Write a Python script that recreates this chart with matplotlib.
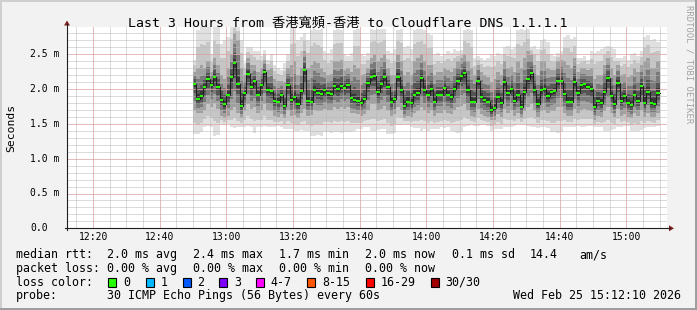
import numpy as np
import matplotlib
matplotlib.use("Agg")
import matplotlib.pyplot as plt
from matplotlib.patches import Rectangle, Polygon
import matplotlib.transforms as mtrans

# ---------------- data ----------------
title = "Last 3 Hours from 香港寬頻-香港 to Cloudflare DNS 1.1.1.1"
view_start = "12:12:10"
view_end = "15:12:10"
first_sample = "12:50"   # start of first 60 s step
step_minutes = 1

median = [2.08,1.86,1.90,2.03,2.15,2.06,2.17,2.03,1.85,1.78,
          1.92,2.17,2.37,2.08,1.76,1.94,2.22,2.03,2.11,1.92,
          2.06,2.25,1.99,1.97,1.83,1.82,1.92,1.76,2.06,1.85,
          1.88,1.79,1.97,2.28,1.83,1.82,1.99,1.95,1.93,1.98,
          1.94,1.93,2.04,2.00,2.05,2.02,2.06,1.87,1.85,1.83,
          1.80,1.86,2.09,2.18,2.19,1.96,2.07,2.18,2.03,1.82,
          1.86,2.18,1.99,1.76,1.82,1.80,1.91,1.94,2.16,1.99,
          1.91,2.00,1.82,1.92,1.92,2.02,1.92,1.88,2.00,2.12,
          2.19,2.23,1.98,1.82,1.82,2.12,1.89,1.85,1.82,1.70,
          1.73,1.89,1.80,2.10,1.94,2.00,1.83,1.91,1.75,1.96,
          2.14,2.23,1.99,1.79,1.98,2.00,1.90,1.96,1.97,2.12,
          2.12,1.93,1.82,1.81,2.10,1.94,2.06,2.07,2.03,2.00,
          1.74,1.83,1.80,1.96,2.16,1.90,1.78,2.09,1.83,1.90,
          1.80,1.77,1.92,1.83,2.04,1.80,1.96,1.80,1.79,1.94]

smoke_hi = [2.25,2.30,2.35,2.30,2.40,2.25,2.45,2.35,2.20,2.15,
            2.30,2.50,2.80,2.70,2.30,2.20,2.45,2.35,2.35,2.25,
            2.30,2.42,2.28,2.30,2.15,2.12,2.12,2.10,2.30,2.35,
            2.40,2.20,2.30,2.55,2.30,2.35,2.40,2.38,2.30,2.25,
            2.20,2.22,2.40,2.40,2.42,2.28,2.30,2.25,2.35,2.30,
            2.20,2.22,2.30,2.45,2.50,2.40,2.45,2.50,2.30,2.20,
            2.20,2.50,2.40,2.20,2.25,2.20,2.40,2.45,2.50,2.40,
            2.35,2.35,2.20,2.25,2.25,2.30,2.28,2.25,2.30,2.40,
            2.45,2.50,2.40,2.30,2.20,2.35,2.25,2.20,2.18,2.10,
            2.15,2.25,2.20,2.40,2.30,2.32,2.25,2.40,2.30,2.45,
            2.55,2.50,2.35,2.20,2.40,2.40,2.30,2.28,2.28,2.40,
            2.42,2.40,2.35,2.30,2.45,2.25,2.30,2.30,2.28,2.30,
            2.15,2.20,2.20,2.35,2.45,2.30,2.20,2.35,2.20,2.22,
            2.18,2.20,2.30,2.25,2.35,2.40,2.45,2.30,2.30,2.40]

smoke_lo = [1.70,1.65,1.66,1.70,1.78,1.75,1.80,1.72,1.62,1.58,
            1.62,1.70,1.75,1.65,1.58,1.68,1.78,1.72,1.75,1.66,
            1.70,1.78,1.70,1.68,1.62,1.60,1.64,1.58,1.70,1.62,
            1.63,1.58,1.66,1.72,1.62,1.63,1.70,1.68,1.68,1.72,
            1.70,1.70,1.74,1.72,1.75,1.72,1.74,1.66,1.65,1.64,
            1.62,1.64,1.70,1.78,1.78,1.70,1.72,1.76,1.70,1.62,
            1.64,1.75,1.70,1.58,1.62,1.60,1.66,1.68,1.74,1.70,
            1.66,1.70,1.62,1.66,1.66,1.70,1.66,1.64,1.70,1.74,
            1.76,1.78,1.70,1.62,1.60,1.72,1.64,1.62,1.60,1.55,
            1.56,1.64,1.60,1.72,1.66,1.70,1.62,1.66,1.58,1.68,
            1.74,1.78,1.70,1.60,1.68,1.70,1.65,1.68,1.68,1.74,
            1.74,1.66,1.62,1.61,1.72,1.66,1.70,1.71,1.70,1.68,
            1.56,1.62,1.60,1.68,1.75,1.65,1.60,1.72,1.62,1.64,
            1.60,1.58,1.65,1.62,1.70,1.60,1.66,1.60,1.60,1.66]

smoke_min = [1.36,1.35,1.38,1.46,1.47,1.45,1.33,1.34,1.50,1.48,
             1.50,1.45,1.44,1.45,1.46,1.45,1.47,1.46,1.37,1.46,
             1.45,1.47,1.45,1.46,1.45,1.47,1.45,1.42,1.42,1.43,
             1.40,1.40,1.41,1.40,1.40,1.33,1.33,1.34,1.33,1.38,
             1.38,1.37,1.38,1.38,1.37,1.38,1.38,1.38,1.40,1.42,
             1.42,1.45,1.45,1.40,1.40,1.41,1.42,1.42,1.36,1.36,
             1.37,1.48,1.48,1.50,1.48,1.46,1.44,1.44,1.40,1.42,
             1.40,1.42,1.42,1.43,1.45,1.44,1.45,1.40,1.38,1.37,
             1.38,1.46,1.47,1.48,1.47,1.47,1.48,1.48,1.47,1.40,
             1.42,1.43,1.42,1.45,1.46,1.45,1.47,1.50,1.48,1.48,
             1.47,1.45,1.46,1.44,1.45,1.45,1.44,1.38,1.38,1.37,
             1.38,1.46,1.46,1.45,1.46,1.47,1.46,1.46,1.47,1.47,
             1.46,1.46,1.45,1.40,1.40,1.41,1.42,1.46,1.46,1.47,
             1.47,1.40,1.40,1.40,1.41,1.44,1.45,1.46,1.45,1.47]

smoke_max = [2.42,2.85,2.90,2.90,2.90,2.50,2.90,2.90,2.65,2.70,
             2.75,2.90,2.95,2.95,2.70,2.38,2.60,2.60,2.55,2.55,
             2.48,2.56,2.42,2.50,2.34,2.30,2.28,2.38,2.50,2.90,
             2.88,2.70,2.75,2.80,2.70,2.85,2.87,2.85,2.86,2.55,
             2.52,2.58,2.85,2.87,2.85,2.50,2.48,2.52,2.85,2.87,
             2.50,2.48,2.52,2.87,2.85,2.87,2.86,2.87,2.55,2.52,
             2.58,2.85,2.87,2.60,2.62,2.58,2.85,2.87,2.86,2.85,
             2.80,2.78,2.50,2.52,2.48,2.50,2.55,2.52,2.58,2.55,
             2.56,2.85,2.87,2.85,2.45,2.48,2.45,2.42,2.45,2.50,
             2.48,2.52,2.50,2.60,2.62,2.58,2.60,2.85,2.87,2.85,
             2.87,2.60,2.62,2.58,2.70,2.72,2.68,2.50,2.48,2.52,
             2.55,2.75,2.78,2.72,2.75,2.45,2.45,2.48,2.42,2.55,
             2.52,2.55,2.58,2.60,2.62,2.60,2.58,2.45,2.45,2.48,
             2.42,2.50,2.52,2.48,2.55,2.75,2.78,2.70,2.72,2.68]

x_major_labels = ["12:20", "12:40", "13:00", "13:20", "13:40", "14:00", "14:20", "14:40", "15:00"]
y_tick_values = [0.0, 0.5, 1.0, 1.5, 2.0, 2.5]
y_tick_labels = ["0.0", "0.5 m", "1.0 m", "1.5 m", "2.0 m", "2.5 m"]

rtt_stats = ["2.0 ms avg", "2.4 ms max", "1.7 ms min", "2.0 ms now", "0.1 ms sd", "14.4", "am/s"]
loss_stats = ["0.00 % avg", "0.00 % max", "0.00 % min", "0.00 % now"]
loss_labels = ["0", "1", "2", "3", "4-7", "8-15", "16-29", "30/30"]
loss_colors = ["#26ff00", "#00b8ff", "#0059ff", "#7e00ff", "#ff00ff", "#ff5500", "#ff0000", "#a10000"]
probe_text = "30 ICMP Echo Pings (56 Bytes) every 60s"
stamp_text = "Wed Feb 25 15:12:10 2026"

# ---------------- helpers ----------------
def minutes(hms):
    parts = [float(p) for p in hms.split(":")]
    while len(parts) < 3:
        parts.append(0.0)
    return (parts[0] - 12) * 60 + parts[1] + parts[2] / 60.0

W, H = 697, 310
MONO = ["DejaVu Sans Mono", "Noto Sans CJK TC"]
plt.rcParams["font.family"] = MONO
plt.rcParams["lines.scale_dashes"] = False

fig = plt.figure(figsize=(W / 100, H / 100), dpi=100, facecolor="#f2f2f2")

def fx(px):
    return px / W

def fy(py):
    return 1 - py / H

PL, PR, PT, PB = 67, 667, 27, 228.3
ax = fig.add_axes([fx(PL), fy(PB), (PR - PL) / W, (PB - PT) / H])
ax.set_facecolor("white")
for s in ax.spines.values():
    s.set_visible(False)

x0, x1 = minutes(view_start), minutes(view_end)
ymax = (PB - PT) / 69.6
ax.set_xlim(x0, x1)
ax.set_ylim(0, ymax)

n = len(median)
t0 = minutes(first_sample) + step_minutes * np.arange(n)
edges = np.append(t0, t0[-1] + step_minutes)

def ext(a):
    a = np.asarray(a, dtype=float)
    return np.append(a, a[-1])

med = np.asarray(median)
hi = np.asarray(smoke_hi)
lo = np.asarray(smoke_lo)
mn = np.asarray(smoke_min)
mx = np.asarray(smoke_max)

# smoke: graded gray bands from the outer envelope toward the median
layers = [
    (mn, mx, "#e0e0e0"),
    (mn + (lo - mn) * 0.45, mx - (mx - hi) * 0.45, "#c6c6c6"),
    (lo, hi, "#a0a0a0"),
    (lo + (med - lo) * 0.35, hi - (hi - med) * 0.35, "#7a7a7a"),
    (lo + (med - lo) * 0.65, hi - (hi - med) * 0.65, "#555555"),
    (lo + (med - lo) * 0.85, hi - (hi - med) * 0.85, "#363636"),
]
for k, (a, b, c) in enumerate(layers):
    ax.fill_between(edges, ext(a), ext(b), step="post", color=c, lw=0, antialiased=False, zorder=1 + 0.1 * k)

# grid on top of the smoke (1-px dotted lines)
major_pos = [minutes(l) for l in x_major_labels]
minor_pos = np.arange(np.ceil(x0 / 5) * 5, x1, 5)
dots = (0, (0.72, 0.72))
gkw = dict(lw=0.72, ls=dots)
for m in minor_pos:
    ax.axvline(m, color="#b8b8b8", zorder=4, **gkw)
for v in np.arange(0.1, ymax, 0.1):
    ax.axhline(v, color="#b8b8b8", zorder=4, **gkw)
for m in major_pos:
    ax.axvline(m, color="#ee9a9a", zorder=4.5, **gkw)
for v in y_tick_values[1:]:
    ax.axhline(v, color="#ee9a9a", zorder=4.5, **gkw)

# median line
ax.step(edges, ext(med), where="post", color="#202020", lw=0.75, zorder=5)
ax.hlines(med, t0, t0 + step_minutes, color="#26ff00", lw=1.5, zorder=6)

ax.set_xticks([])
ax.set_yticks([])

# axes lines and arrows (pixel coords)
pix = mtrans.Affine2D().scale(1.0 / W, -1.0 / H).translate(0, 1) + fig.transFigure
axis_col = "#1f1f1f"
arrow_col = "#801f1f"
fig.add_artist(plt.Line2D([PL, PL], [PB + 2, 24], transform=pix, color=axis_col, lw=0.8))
fig.add_artist(plt.Line2D([PL - 2, 670], [PB, PB], transform=pix, color=axis_col, lw=0.8))
fig.add_artist(Polygon([[PL - 3, 25.5], [PL + 3, 25.5], [PL, 20.5]], closed=True, transform=pix, color=arrow_col, lw=0))
fig.add_artist(Polygon([[669, PB - 3], [669, PB + 3], [674, PB]], closed=True, transform=pix, color=arrow_col, lw=0))

# tick labels
ylab_tr = mtrans.blended_transform_factory(fig.transFigure, ax.transData)
for v, lab in zip(y_tick_values, y_tick_labels):
    ax.text(fx(30.0), v, lab, transform=ylab_tr, ha="left", va="center", fontsize=7, family=MONO)
xlab_tr = mtrans.blended_transform_factory(ax.transData, fig.transFigure)
for m, lab in zip(major_pos, x_major_labels):
    ax.text(m, fy(237.3), lab, transform=xlab_tr, ha="center", va="center", fontsize=7, family=MONO)

# title & side texts
fig.text(fx(348), fy(26.5), title, ha="center", va="baseline", fontsize=9.5, family=MONO)
fig.text(fx(11), fy(127.5), "Seconds", rotation=90, ha="center", va="center", fontsize=8.2, family=MONO)
fig.text(fx(688.5), fy(5), "RRDTOOL / TOBI OETIKER", rotation=270, ha="center", va="top", fontsize=6.4,
         family=MONO, color="#a2a2a2")

# legend rows
FS = 8.4
rows_y = [258.3, 272.0, 285.7, 299.3]
fig.text(fx(16), fy(rows_y[0]), "median rtt:", va="baseline", fontsize=FS, family=MONO)
for txt, px in zip(rtt_stats, [107.3, 193.3, 279.3, 365.0, 451.7, 530.0, 579.3]):
    fig.text(fx(px), fy(rows_y[0]), txt, va="baseline", fontsize=FS, family=MONO)
fig.text(fx(16), fy(rows_y[1]), "packet loss:", va="baseline", fontsize=FS, family=MONO)
for txt, px in zip(loss_stats, [107.3, 193.3, 279.3, 365.0]):
    fig.text(fx(px), fy(rows_y[1]), txt, va="baseline", fontsize=FS, family=MONO)
fig.text(fx(16), fy(rows_y[2]), "loss color:", va="baseline", fontsize=FS, family=MONO)
for lab, col, bx in zip(loss_labels, loss_colors, [108.3, 145.7, 182.7, 219.3, 256.0, 307.3, 365.7, 430.7]):
    fig.add_artist(Rectangle((bx, 278.0), 8, 8.5, transform=pix, facecolor=col, edgecolor="black", lw=0.8))
    fig.text(fx(bx + 14.5), fy(rows_y[2]), lab, va="baseline", fontsize=FS, family=MONO)
fig.text(fx(16), fy(rows_y[3]), "probe:", va="baseline", fontsize=FS, family=MONO)
fig.text(fx(107.3), fy(rows_y[3]), probe_text, va="baseline", fontsize=FS, family=MONO)
fig.text(fx(513.3), fy(rows_y[3]), stamp_text, va="baseline", fontsize=FS, family=MONO)

# 3D frame
fig.add_artist(Rectangle((0, 0), W, 2, transform=pix, facecolor="#cfcfcf", lw=0))
fig.add_artist(Rectangle((0, 0), 2, H, transform=pix, facecolor="#cfcfcf", lw=0))
fig.add_artist(Rectangle((0, H - 2), W, 2, transform=pix, facecolor="#9e9e9e", lw=0))
fig.add_artist(Rectangle((W - 2, 0), 2, H, transform=pix, facecolor="#9e9e9e", lw=0))

fig.savefig("out.png", dpi=100, facecolor=fig.get_facecolor())
